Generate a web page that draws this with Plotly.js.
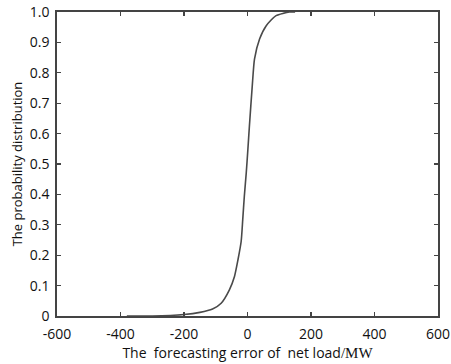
<!DOCTYPE html>
<html>
<head>
<meta charset="utf-8">
<script src="https://cdn.plot.ly/plotly-3.0.1.min.js"></script>
<style>html,body{margin:0;padding:0;background:#fff;}#chart{width:451px;height:364px;}</style>
</head>
<body>
<div id="chart"></div>
<script>
// Forecasting error of net load (MW) and cumulative probability
const errorMW = [-380, -300, -200, -150, -110, -83, -57, -41, -30, -20, -15, -10, -4, 1, 6, 15, 22, 38, 59, 90, 132, 150];
const probability = [0, 0, 0.005, 0.012, 0.023, 0.042, 0.086, 0.13, 0.185, 0.245, 0.317, 0.394, 0.47, 0.545, 0.625, 0.757, 0.845, 0.911, 0.955, 0.988, 1.0, 1.0];
const xTicks = [-600, -400, -200, 0, 200, 400, 600];
const yTicks = [0, 0.1, 0.2, 0.3, 0.4, 0.5, 0.6, 0.7, 0.8, 0.9, 1.0];
const yTickText = ['0', '0.1', '0.2', '0.3', '0.4', '0.5', '0.6', '0.7', '0.8', '0.9', '1.0'];

const fontFam = 'Open Sans, Liberation Sans, sans-serif';
const trace = {
  x: errorMW, y: probability, type: 'scatter', mode: 'lines',
  line: {color: '#4a4a4a', width: 1.6, shape: 'spline', smoothing: 0.6},
  hoverinfo: 'none'
};
const axisCommon = {
  showline: true, linecolor: '#444', linewidth: 1.8, mirror: 'ticks',
  ticks: 'inside', ticklen: 4, tickcolor: '#444', tickwidth: 1.2,
  showgrid: false, zeroline: false,
  tickfont: {family: fontFam, size: 14, color: '#111'}
};
const layout = {
  width: 451, height: 364,
  margin: {l: 57, r: 13, t: 12, b: 48},
  paper_bgcolor: '#fff', plot_bgcolor: '#fff',
  showlegend: false,
  xaxis: Object.assign({}, axisCommon, {
    range: [-600, 600], tickvals: xTicks, ticktext: xTicks.map(String),
    ticklabelstandoff: 4,
    title: {text: 'The  forecasting error of  net load<span style="font-family:Liberation Serif,serif;font-size:15px">/MW</span>',
            font: {family: fontFam, size: 14, color: '#111'}, standoff: 0}
  }),
  yaxis: Object.assign({}, axisCommon, {
    range: [0, 1], tickvals: yTicks, ticktext: yTickText,
    ticklabelstandoff: 3,
    title: {text: 'The probability distribution', font: {family: fontFam, size: 13, color: '#111'}, standoff: 4}
  })
};
Plotly.newPlot('chart', [trace], layout, {displayModeBar: false, staticPlot: true});
</script>
</body>
</html>
